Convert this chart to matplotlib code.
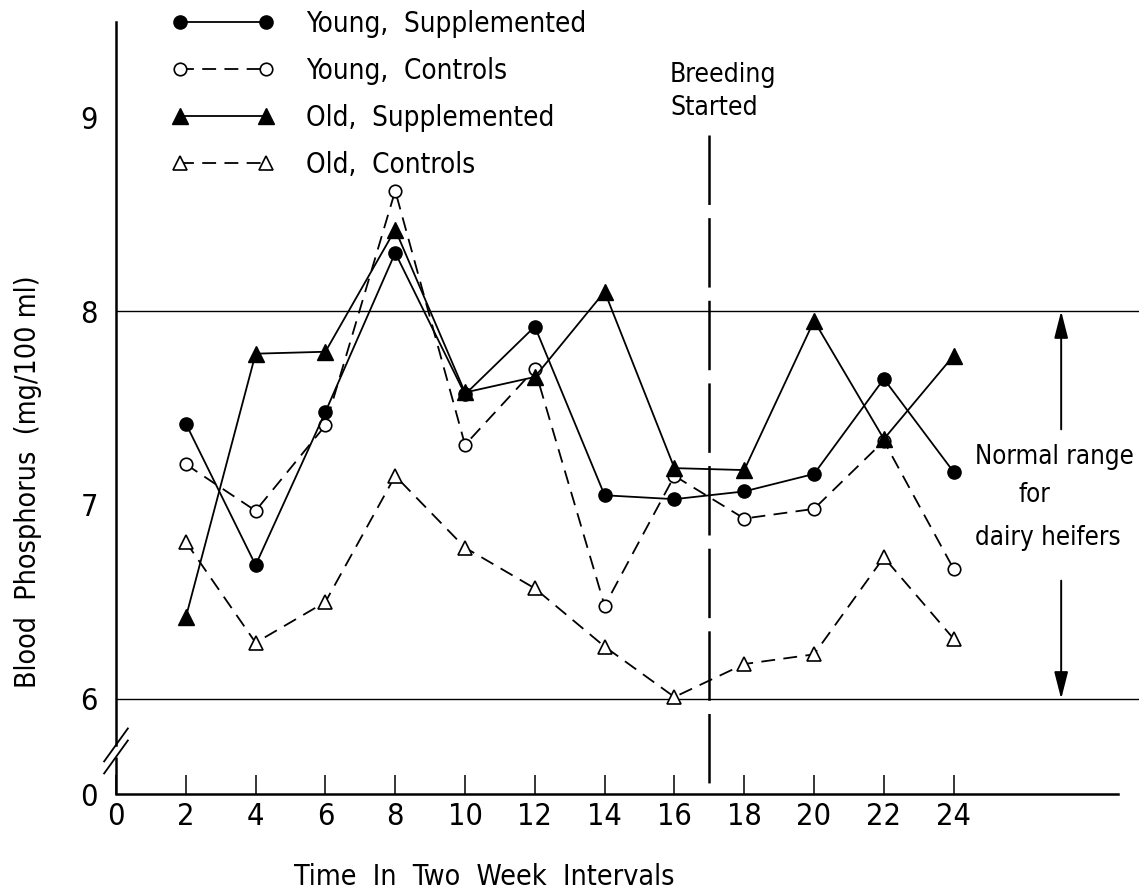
import matplotlib
matplotlib.use('Agg')
import matplotlib.pyplot as plt
from matplotlib.lines import Line2D
from matplotlib.legend_handler import HandlerLine2D

plt.rcParams['font.family'] = ['DejaVu Sans']
plt.rcParams['font.stretch'] = 'condensed'
plt.rcParams['lines.scale_dashes'] = False

# ---------------- data ----------------
weeks = [2, 4, 6, 8, 10, 12, 14, 16, 18, 20, 22, 24]
young_supplemented = [7.42, 6.69, 7.48, 8.30, 7.57, 7.92, 7.05, 7.03, 7.07, 7.16, 7.65, 7.17]
young_controls = [7.21, 6.97, 7.41, 8.62, 7.31, 7.70, 6.48, 7.15, 6.93, 6.98, 7.33, 6.67]
old_supplemented = [6.42, 7.78, 7.79, 8.42, 7.58, 7.66, 8.10, 7.19, 7.18, 7.95, 7.34, 7.77]
old_controls = [6.81, 6.29, 6.50, 7.15, 6.78, 6.57, 6.27, 6.01, 6.18, 6.23, 6.73, 6.31]

series_labels = ['Young,  Supplemented', 'Young,  Controls',
                 'Old,  Supplemented', 'Old,  Controls']
x_ticks = [0, 2, 4, 6, 8, 10, 12, 14, 16, 18, 20, 22, 24]
x_tick_labels = ['0', '2', '4', '6', '8', '10', '12', '14', '16', '18', '20', '22', '24']
y_ticks = [6, 7, 8, 9]
y_tick_labels = ['6', '7', '8', '9']
normal_low = 6
normal_high = 8
breeding_start = 17

# ---------------- layout ----------------
W, H = 1139, 894
fig = plt.figure(figsize=(W / 100, H / 100), dpi=100)


def fx(px):
    return px / W


def fy(py):
    return 1 - py / H


ax = fig.add_axes([fx(116), fy(794), fx(1139) - fx(116), fy(22) - fy(794)])
y_bottom, y_top = 5.51, 9.49
ax.set_xlim(0, 29.31)
ax.set_ylim(y_bottom, y_top)

for s in ['top', 'right']:
    ax.spines[s].set_visible(False)
ax.spines['bottom'].set_linewidth(1.8)
ax.spines['bottom'].set_bounds(0, 28.71)

# left spine with a break
break_hi, break_lo = 5.763, 5.701
ax.spines['left'].set_linewidth(1.8)
ax.spines['left'].set_bounds(break_hi, y_top)
ax.plot([0, 0], [y_bottom, break_lo], color='black', lw=1.8, clip_on=False,
        solid_capstyle='butt')
dx, dy = 0.34, 0.085
for yb in (break_hi, break_lo):
    ax.plot([-dx, dx], [yb - dy, yb + dy], color='black', lw=1.3, clip_on=False)

# normal range lines
ax.axhline(normal_high, color='black', lw=1.0)
ax.axhline(normal_low, color='black', lw=1.0)

# series
l1, = ax.plot(weeks, young_supplemented, color='black', lw=1.3, marker='o', ms=9.5,
              mfc='black', mec='black', zorder=4)
l2, = ax.plot(weeks, young_controls, color='black', lw=1.3, dashes=(10, 6), marker='o',
              ms=9, mfc='white', mec='black', mew=1.2, zorder=3)
l3, = ax.plot(weeks, old_supplemented, color='black', lw=1.3, marker='^', ms=11,
              mfc='black', mec='black', zorder=4)
l4, = ax.plot(weeks, old_controls, color='black', lw=1.3, dashes=(10, 6), marker='^',
              ms=10.5, mfc='white', mec='black', mew=1.2, zorder=3)

# breeding started line
top_frac = (794 - 135) / (794 - 22)
ax.plot([breeding_start, breeding_start], [top_frac, 0], transform=ax.get_xaxis_transform(),
        color='black', lw=1.8, dashes=(50, 9.5), clip_on=False)

# normal range arrows
arrow_x = 27.08
aprops = dict(arrowstyle='-|>,head_length=1.65,head_width=0.42', mutation_scale=10,
              lw=1.4, color='black', shrinkA=0, shrinkB=0)
ax.annotate('', xy=(arrow_x, normal_high), xytext=(arrow_x, 7.39), arrowprops=aprops)
ax.annotate('', xy=(arrow_x, normal_low), xytext=(arrow_x, 6.61), arrowprops=aprops)

# ticks
ax.set_xticks(x_ticks)
ax.set_xticklabels(x_tick_labels)
ax.set_yticks([y_bottom] + y_ticks)
ax.set_yticklabels(['0'] + y_tick_labels)
ax.tick_params(axis='x', direction='in', length=13.7, width=1.1, pad=6, labelsize=22)
ax.tick_params(axis='y', length=0, pad=13, labelsize=22)

# axis labels
ax.set_xlabel('Time  In  Two  Week  Intervals', fontsize=20.5, va='center')
ax.xaxis.set_label_coords((484 - 116) / 1023, (794 - 877) / 772)
ax.set_ylabel('Blood  Phosphorus  (mg/100 ml)', fontsize=20.5, va='center')
ax.yaxis.set_label_coords((28 - 116) / 1023, (794 - 482) / 772)

# annotations
fig.text(fx(670), fy(75), 'Breeding', ha='left', va='center', fontsize=19)
fig.text(fx(670), fy(108), 'Started', ha='left', va='center', fontsize=19)
fig.text(fx(975), fy(457), 'Normal range', ha='left', va='center', fontsize=18.5)
fig.text(fx(1034), fy(495), 'for', ha='center', va='center', fontsize=18.5)
fig.text(fx(975), fy(538), 'dairy heifers', ha='left', va='center', fontsize=18.5)

# legend
ax.legend(handles=[l1, l2, l3, l4], labels=series_labels, loc='upper left',
          bbox_to_anchor=(fx(180), fy(10)), bbox_transform=fig.transFigure,
          frameon=False, handlelength=3.1, handletextpad=1.45,
          labelspacing=0.68, borderpad=0, borderaxespad=0, numpoints=2,
          prop=dict(size=20),
          handler_map={Line2D: HandlerLine2D(marker_pad=0)})

fig.savefig('out.png', dpi=100)
